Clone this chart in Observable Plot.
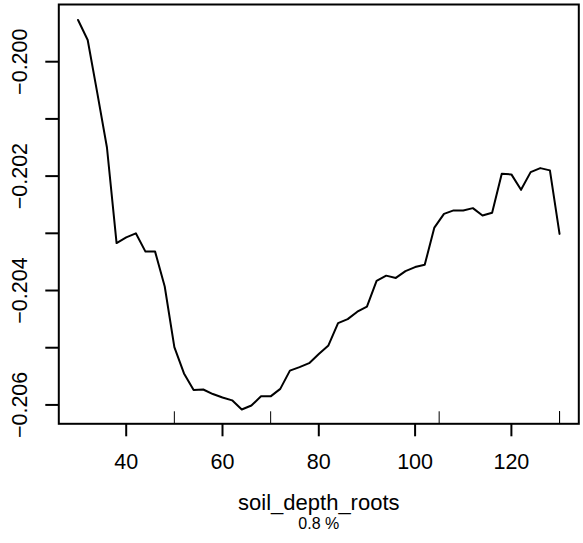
<!DOCTYPE html>
<html>
<head>
<meta charset="utf-8">
<script src="https://cdn.jsdelivr.net/npm/d3@7"></script>
<script src="https://cdn.jsdelivr.net/npm/@observablehq/plot@0.6"></script>
<style>
  html, body { margin: 0; padding: 0; background: white; }
</style>
</head>
<body>
<div id="chart"></div>
<script>
// Grid of soil_depth_roots values and partial dependence
const depth = [30,32,34,36,38,40,42,44,46,48,50,52,54,56,58,60,62,64,66,68,70,72,74,76,78,80,82,84,86,88,90,92,94,96,98,100,102,104,106,108,110,112,114,116,118,120,122,124,126,128,130];
const effect = [-0.19927,-0.19962,-0.20055,-0.20150,-0.20317,-0.20307,-0.20300,-0.20332,-0.20332,-0.20393,
  -0.20499,-0.20545,-0.20574,-0.20573,-0.20581,-0.20587,-0.20592,-0.20608,-0.20601,-0.20585,
  -0.20585,-0.20572,-0.20540,-0.20534,-0.20527,-0.20511,-0.20496,-0.20457,-0.20450,-0.20437,
  -0.20428,-0.20383,-0.20374,-0.20378,-0.20366,-0.20359,-0.20355,-0.20290,-0.20266,-0.20260,
  -0.20260,-0.20256,-0.20269,-0.20264,-0.20196,-0.20197,-0.20224,-0.20193,-0.20186,-0.20190,-0.20301];
const xTicks = [40, 60, 80, 100, 120];
const yTicks = [-0.206, -0.205, -0.204, -0.203, -0.202, -0.201, -0.200];
const yLabels = [-0.206, -0.204, -0.202, -0.200];
const rugDeciles = [50, 70, 105, 130, 130, 130];
const xTitle = "soil_depth_roots";
const subTitle = "0.8 %";

const data = depth.map((x, i) => ({x, y: effect[i]}));
const font = "'Liberation Sans', Arial, Helvetica, sans-serif";
const fmtY = d3.format(".3f");

const W = 583, H = 543, mL = 58.3, mR = 4.7, mT = 4, mB = 119.7;
const frameW = W - mL - mR, frameH = H - mT - mB;
const tickLen = 13;

const chart = Plot.plot({
  width: W,
  height: H,
  marginLeft: mL,
  marginRight: mR,
  marginTop: mT,
  marginBottom: mB,
  x: {domain: [26, 134], axis: null},
  y: {domain: [-0.20633, -0.19900], axis: null},
  style: {fontFamily: font, fontSize: "21px", background: "white", color: "black"},
  marks: [
    Plot.tickX(rugDeciles, {x: d => d, insetTop: frameH - 12, stroke: "black", strokeWidth: 1}),
    Plot.line(data, {x: "x", y: "y", stroke: "black", strokeWidth: 2}),
    Plot.frame({stroke: "black", strokeWidth: 2}),
    Plot.tickY(yTicks, {y: d => d, insetRight: frameW - tickLen, dx: -tickLen, stroke: "black", strokeWidth: 2}),
    Plot.text(yLabels, {y: d => d, text: d => fmtY(d), frameAnchor: "left", dx: -38.5, rotate: -90,
      textAnchor: "middle", lineAnchor: "middle", fontSize: 21.5, fill: "black"}),
    Plot.tickX(xTicks, {x: d => d, insetTop: frameH - tickLen, dy: tickLen, stroke: "black", strokeWidth: 2}),
    Plot.text(xTicks, {x: d => d, text: d => String(d), frameAnchor: "bottom", dy: 38.7,
      lineAnchor: "middle", fontSize: 21.5, fill: "black"}),
    Plot.text([xTitle], {text: d => d, frameAnchor: "bottom", dy: 78.7, lineAnchor: "middle", fontSize: 22, fill: "black"}),
    Plot.text([subTitle], {text: d => d, frameAnchor: "bottom", dy: 100, lineAnchor: "middle", fontSize: 16, fill: "black"})
  ]
});
document.getElementById("chart").appendChild(chart);
</script>
</body>
</html>
